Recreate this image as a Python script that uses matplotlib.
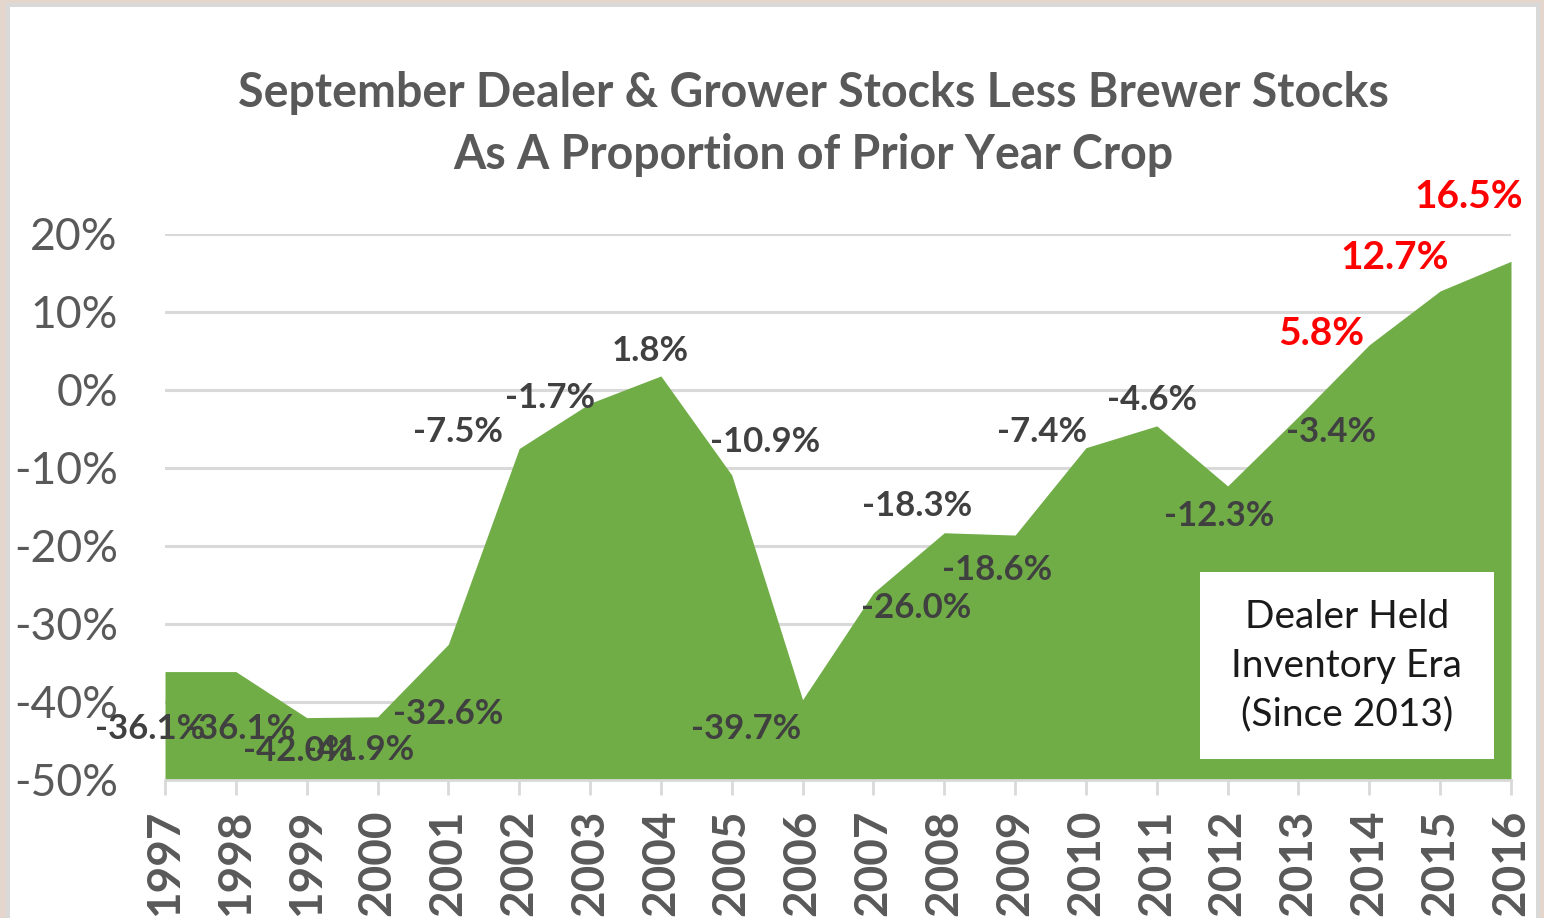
import matplotlib
matplotlib.use("Agg")
import matplotlib.pyplot as plt
from matplotlib.patches import Rectangle

years = [1997, 1998, 1999, 2000, 2001, 2002, 2003, 2004, 2005, 2006,
         2007, 2008, 2009, 2010, 2011, 2012, 2013, 2014, 2015, 2016]
values = [-36.1, -36.1, -42.0, -41.9, -32.6, -7.5, -1.7, 1.8, -10.9, -39.7,
          -26.0, -18.3, -18.6, -7.4, -4.6, -12.3, -3.4, 5.8, 12.7, 16.5]
labels = ["-36.1%", "-36.1%", "-42.0%", "-41.9%", "-32.6%", "-7.5%", "-1.7%", "1.8%",
          "-10.9%", "-39.7%", "-26.0%", "-18.3%", "-18.6%", "-7.4%", "-4.6%",
          "-12.3%", "-3.4%", "5.8%", "12.7%", "16.5%"]
# label offsets in pixels (dx, dy) relative to each point
offsets = [(-15, -57), (4, -57), (-8, -33), (-18, -33), (0, -70), (-61, 16),
           (-40, 5), (-11, 25), (33, 33), (-56, -29), (43, -15), (-27, 27),
           (-18, -35), (-44, 16), (-5, 26), (-8, -30), (33, -15), (-48, 11),
           (-46, 33), (-42, 65)]
red_years = [2014, 2015, 2016]
title_lines = ["September Dealer & Grower Stocks Less Brewer Stocks",
               "As A Proportion of Prior Year Crop"]
box_text = "Dealer Held\nInventory Era\n(Since 2013)"
yticks = [-50, -40, -30, -20, -10, 0, 10, 20]

FONT = ["Lato", "DejaVu Sans"]
plt.rcParams['font.family'] = FONT

fig = plt.figure(figsize=(15.44, 9.18), dpi=100)
fig.patch.set_facecolor("#E4D5CD")
# inner white panel with gray border
fig.patches.append(Rectangle((6/1544, -0.01), (1540-6)/1544, 1.01 - 3/918,
                             transform=fig.transFigure, facecolor="#D9D9D9",
                             edgecolor="none", zorder=-2))
fig.patches.append(Rectangle((10/1544, -0.01), (1536-10)/1544, 1.01 - 7/918,
                             transform=fig.transFigure, facecolor="white",
                             edgecolor="none", zorder=-1))

ax = fig.add_axes([165/1544, 138/918, 1346/1544, 546/918])
ax.set_facecolor("none")
ax.fill_between(years, values, -50, color="#70AD47", linewidth=0, zorder=2)
ax.set_xlim(years[0], years[-1])
ax.set_ylim(-50, 20)
ax.set_yticks(yticks)
ax.set_yticklabels([f"{t}%" for t in yticks])
ax.grid(axis='y', color="#D9D9D9", linewidth=2.2, zorder=0)
ax.set_axisbelow(True)
for s in ["top", "right", "left"]:
    ax.spines[s].set_visible(False)
ax.spines["bottom"].set_color("#D9D9D9")
ax.spines["bottom"].set_linewidth(2)
ax.tick_params(axis='y', length=0, pad=34, labelsize=32, labelcolor="#595959")
ax.set_xticks(years)
ax.set_xticklabels([str(y) for y in years], rotation=90, fontsize=33,
                   fontweight='bold', color="#595959", va='top')
ax.tick_params(axis='x', length=11, width=2, color="#D9D9D9", pad=10)

for yr, v, lab, (dx, dy) in zip(years, values, labels, offsets):
    red = yr in red_years
    ax.annotate(lab, xy=(yr, v), xytext=(dx, dy), textcoords='offset pixels',
                ha='center', va='center', fontsize=28 if red else 25,
                fontweight='bold',
                color="#FF0000" if red else "#404040", zorder=5,
                annotation_clip=False)

ax.add_patch(Rectangle((0.769, 0.038), 0.218, 0.343, transform=ax.transAxes,
                       facecolor="white", edgecolor="none", zorder=6))
ax.text(0.878, 0.2095, box_text, transform=ax.transAxes, ha='center', va='center',
        fontsize=28, color="#1a1a1a", linespacing=1.45, zorder=7)

fig.text(813/1544, 1 - 93/918, title_lines[0], ha='center', va='center',
         fontsize=33.5, fontweight='bold', color="#595959")
fig.text(813/1544, 1 - 155/918, title_lines[1], ha='center', va='center',
         fontsize=33.5, fontweight='bold', color="#595959")

fig.savefig("out.png", dpi=100, facecolor=fig.get_facecolor())
